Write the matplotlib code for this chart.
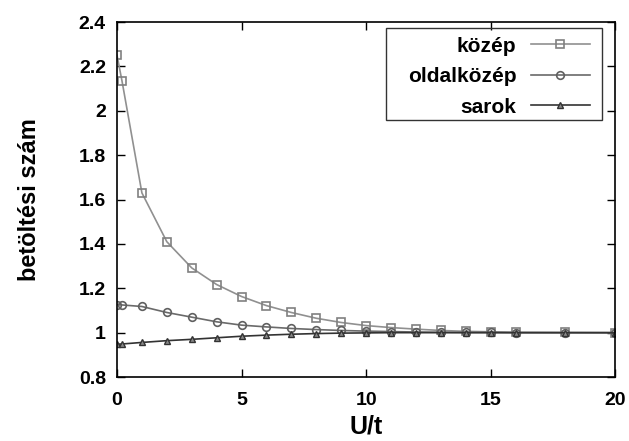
import matplotlib
matplotlib.use("Agg")
import matplotlib.pyplot as plt
from matplotlib.patches import Rectangle

x_vals = [0, 0.2, 1, 2, 3, 4, 5, 6, 7, 8, 9, 10, 11, 12, 13, 14, 15, 16, 18, 20]
kozep = [2.25, 2.135, 1.63, 1.41, 1.292, 1.217, 1.163, 1.122, 1.091, 1.065, 1.046,
         1.032, 1.023, 1.016, 1.01, 1.006, 1.004, 1.002, 1.001, 1.0]
oldalkozep = [1.127, 1.125, 1.118, 1.091, 1.07, 1.049, 1.034, 1.026, 1.019, 1.014, 1.01,
              1.007, 1.005, 1.003, 1.002, 1.001, 1.001, 1.0, 1.0, 1.0]
sarok = [0.948, 0.949, 0.956, 0.964, 0.97, 0.977, 0.984, 0.989, 0.993, 0.996, 0.998,
         0.999, 1.0, 1.0, 1.0, 1.0, 1.0, 1.0, 1.0, 1.0]
labels = ["közép", "oldalközép", "sarok"]
x_ticks = [0, 5, 10, 15, 20]
y_ticks = [0.8, 1.0, 1.2, 1.4, 1.6, 1.8, 2.0, 2.2, 2.4]
y_tick_labels = ["0.8", "1", "1.2", "1.4", "1.6", "1.8", "2", "2.2", "2.4"]

plt.rcParams["font.family"] = ["Liberation Sans", "DejaVu Sans"]
plt.rcParams["font.weight"] = "bold"

fig = plt.figure(figsize=(6.29, 4.41), dpi=100)
ax = fig.add_axes([0.186, 0.145, 0.792, 0.805])

ax.plot(x_vals, kozep, color="#909090", lw=1.2, marker="s", ms=5.5, mfc="none",
        mec="#808080", mew=1.2, label=labels[0])
ax.plot(x_vals, oldalkozep, color="#6a6a6a", lw=1.2, marker="o", ms=5.5, mfc="none",
        mec="#606060", mew=1.2, label=labels[1])
ax.plot(x_vals, sarok, color="#333333", lw=1.2, marker="^", ms=5, mfc="#888888",
        mec="#333333", mew=1.0, label=labels[2])

ax.set_xlim(0, 20)
ax.set_ylim(0.8, 2.4)
ax.set_xticks(x_ticks)
ax.set_yticks(y_ticks)
ax.set_yticklabels(y_tick_labels)
ax.tick_params(direction="in", top=True, right=True, length=6, width=1,
               labelsize=14)
ax.tick_params(axis="x", pad=11)
ax.tick_params(axis="y", pad=8)
for lab in ax.get_xticklabels() + ax.get_yticklabels():
    lab.set_fontweight("bold")
for s in ax.spines.values():
    s.set_linewidth(1.2)

ax.set_xlabel("U/t", fontsize=18, fontweight="bold", labelpad=4)
ax.set_ylabel("betöltési szám", fontsize=17, fontweight="bold", labelpad=27)

ax.add_patch(Rectangle((0.540, 0.724), 0.434, 0.259, transform=ax.transAxes,
                       fill=False, edgecolor="#333333", lw=1.0, zorder=5))
leg = ax.legend(loc="upper right", bbox_to_anchor=(0.982, 1.006), markerfirst=False,
                frameon=False, handlelength=2.8, labelspacing=0.55,
                handletextpad=0.7, borderpad=0.3,
                prop={"weight": "bold", "size": 15})
for t in leg.get_texts():
    t.set_ha("right")

fig.savefig("out.png", dpi=100)
